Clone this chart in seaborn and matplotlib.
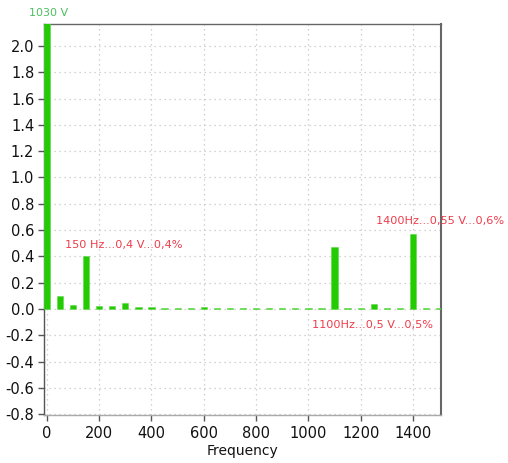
import matplotlib
matplotlib.use("Agg")
import matplotlib.pyplot as plt
import seaborn as sns
import pandas as pd

# Data
freqs = [0, 50, 100, 150, 200, 250, 300, 350, 400, 450, 500, 550, 600, 650, 700,
         750, 800, 850, 900, 950, 1000, 1050, 1100, 1150, 1200, 1250, 1300, 1350,
         1400, 1450, 1500]
amps = [1030.0, 0.096, 0.033, 0.40, 0.02, 0.02, 0.048, 0.018, 0.018, 0.01, 0.01,
        0.01, 0.012, 0.005, 0.01, 0.008, 0.008, 0.008, 0.008, 0.004, 0.004, 0.004,
        0.474, 0.004, 0.008, 0.04, 0.004, 0.004, 0.567, 0.004, 0.004]
x_ticks = [0, 200, 400, 600, 800, 1000, 1200, 1400]
y_ticks = [-0.8, -0.6, -0.4, -0.2, 0.0, 0.2, 0.4, 0.6, 0.8, 1.0, 1.2, 1.4, 1.6, 1.8, 2.0]
fund_label = "1030 V"
notes = [
    ("150 Hz...0,4 V...0,4%", 69, 0.487),
    ("1400Hz...0,55 V...0,6%", 1260, 0.671),
    ("1100Hz...0,5 V...0,5%", 1015, -0.122),
]

df = pd.DataFrame({"Frequency": freqs, "Amplitude": amps})

sns.set_style("white")
plt.rcParams['font.family'] = ['DejaVu Sans']

fig = plt.figure(figsize=(5.08, 4.63), dpi=100)
ax = fig.add_axes([44 / 508, 1 - 415 / 463, (441 - 44) / 508, (415 - 24) / 463])

sns.barplot(data=df, x="Frequency", y="Amplitude", native_scale=True, width=0.48,
            color="#22cc00", saturation=1, edgecolor="#5fd84a", linewidth=0.4,
            ax=ax, zorder=3)

ax.set_xlim(-11, 1507)
ax.set_ylim(-0.806, 2.167)
ax.set_xticks(x_ticks)
ax.set_xticklabels([str(t) for t in x_ticks])
ax.set_yticks(y_ticks)
ax.set_yticklabels([f"{t:.1f}" for t in y_ticks])
ax.grid(True, color="#c4c4c4", linestyle=(0, (1, 3)), linewidth=0.9, zorder=0)
ax.set_axisbelow(True)

ax.tick_params(axis="both", direction="out", length=4, width=1, color="#555555",
               labelsize=10.5, labelcolor="#111111", left=True, bottom=True)
ax.tick_params(axis="y", pad=3)
ax.tick_params(axis="x", pad=4)
ax.set_xlabel("Frequency", fontsize=10, color="#111111", labelpad=2)
ax.set_ylabel("")

for side in ["left", "bottom", "top", "right"]:
    ax.spines[side].set_visible(True)
    ax.spines[side].set_color("#666666")
ax.spines["left"].set_linewidth(1.0)
ax.spines["left"].set_color("#555555")
ax.spines["bottom"].set_linewidth(1.0)
ax.spines["top"].set_linewidth(1.0)
ax.spines["right"].set_linewidth(1.5)
ax.spines["bottom"].set_color("#aaaaaa")

ax.text(-69, 2.248, fund_label, color="#4cbf5e", fontsize=8, ha="left",
        va="center", clip_on=False)
for txt, xv, yv in notes:
    ax.text(xv, yv, txt, color="#ee3b4a", fontsize=8.1, ha="left", va="center",
            clip_on=False)

fig.savefig("out.png", dpi=100)
